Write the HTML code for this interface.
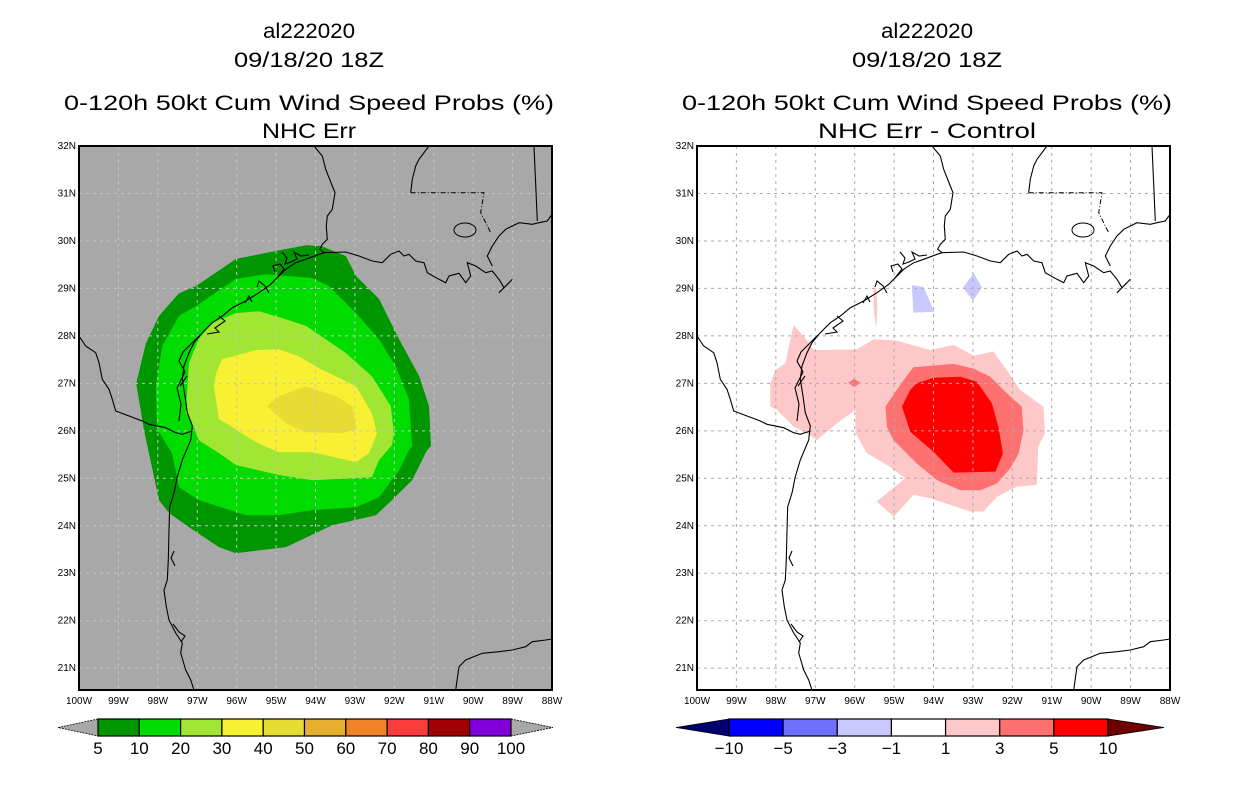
<!DOCTYPE html>
<html><head><meta charset="utf-8"><style>
html,body{margin:0;padding:0;background:#fff;width:1236px;height:800px;overflow:hidden}
svg text{font-family:"Liberation Sans",sans-serif;fill:#000}
</style></head><body>
<svg id="svg" width="1236" height="800" viewBox="0 0 1236 800" xmlns="http://www.w3.org/2000/svg">
<defs>
<clipPath id="clipL"><rect x="0" y="0" width="473" height="544"/></clipPath>
</defs>
<g id="titles"></g>
<g id="panelL" transform="translate(79,146)"></g>
<g id="panelR" transform="translate(697,146)"></g>
<g id="cbars"></g>
</svg>
<script>
// ---- data ----
const lonTicks = [-100,-99,-98,-97,-96,-95,-94,-93,-92,-91,-90,-89,-88];
const latTicks = [21,22,23,24,25,26,27,28,29,30,31,32];
const probLevels = [5,10,20,30,40,50,60,70,80,90,100];
const probColors = ["#009600","#00dc00","#a0e632","#f8f032","#e6dc32","#e6af2d","#f08228","#fa3c3c","#a00000","#8200dc"];
const diffLevels = [-10,-5,-3,-1,1,3,5,10];
const diffColors = ["#0000ff","#7070ff","#c8c8ff","#ffffff","#ffc8c8","#ff7070","#ff0000"];
const prob5 = [[-98.55,27.0],[-98.30,27.85],[-97.97,28.42],[-97.46,28.90],[-97.03,29.05],[-96.02,29.62],[-95.0,29.79],[-94.24,29.91],[-93.84,29.89],[-93.23,29.68],[-92.97,29.26],[-92.39,28.78],[-91.88,27.93],[-91.37,27.15],[-91.12,26.52],[-91.07,25.68],[-91.17,25.59],[-91.55,24.96],[-92.06,24.54],[-92.47,24.22],[-93.58,24.01],[-94.75,23.55],[-96.02,23.42],[-96.45,23.55],[-97.21,23.97],[-97.72,24.27],[-97.97,24.54],[-98.17,25.32],[-98.35,26.01]];
const prob10 = [[-98.05,26.94],[-97.89,27.79],[-97.46,28.42],[-97.03,28.63],[-96.02,29.20],[-95.26,29.30],[-94.09,29.22],[-93.66,29.05],[-92.97,28.48],[-92.39,27.93],[-91.96,27.36],[-91.63,26.67],[-91.55,25.68],[-91.63,25.59],[-91.88,25.17],[-92.39,24.60],[-92.97,24.39],[-94.09,24.33],[-94.93,24.22],[-95.76,24.22],[-96.96,24.54],[-97.46,24.81],[-97.64,25.53],[-98.02,26.04]];
const prob20 = [[-96.96,27.93],[-96.63,28.27],[-96.02,28.48],[-95.43,28.52],[-94.75,28.35],[-94.24,28.21],[-93.23,27.64],[-92.57,27.15],[-92.09,26.52],[-92.01,25.95],[-92.06,25.7],[-92.39,25.38],[-92.57,25.02],[-94.09,24.96],[-94.93,25.07],[-96.02,25.28],[-96.45,25.53],[-96.96,25.80],[-97.16,26.23],[-97.29,26.37],[-97.21,27.43]];
const prob30 = [[-96.37,27.51],[-95.51,27.70],[-94.93,27.72],[-94.42,27.57],[-93.91,27.32],[-92.97,26.94],[-92.57,26.37],[-92.44,25.95],[-92.64,25.53],[-92.97,25.34],[-94.09,25.55],[-94.93,25.55],[-95.51,25.76],[-96.12,26.08],[-96.45,26.25],[-96.58,26.94],[-96.52,27.22]];
const prob40 = [[-95.23,26.52],[-94.93,26.73],[-94.24,26.94],[-93.48,26.73],[-93.07,26.52],[-92.97,26.04],[-93.33,25.95],[-94.24,25.97],[-94.75,26.16]];
const diff1 = [[-98.14,27.00],[-98.01,27.28],[-97.76,27.42],[-97.55,28.23],[-97.21,27.91],[-97.04,27.70],[-95.94,27.72],[-95.52,27.93],[-94.93,27.90],[-94.08,27.70],[-93.49,27.81],[-92.98,27.58],[-92.48,27.67],[-92.14,27.28],[-91.80,26.86],[-91.21,26.51],[-91.17,25.95],[-91.34,25.67],[-91.38,24.86],[-91.89,24.82],[-92.39,24.61],[-92.73,24.30],[-93.07,24.30],[-94.08,24.58],[-94.51,24.65],[-95.01,24.19],[-95.44,24.51],[-94.72,25.00],[-95.10,25.24],[-95.69,25.53],[-95.98,25.95],[-95.98,26.44],[-96.45,26.16],[-96.96,25.80],[-97.13,25.91],[-97.55,26.09],[-97.97,26.44],[-98.14,26.51]];
const diff1b = [[-95.52,29.0],[-95.45,29.0],[-95.42,28.6],[-95.46,28.15],[-95.52,28.6]];
const diff3 = [[-94.51,27.34],[-93.49,27.41],[-92.98,27.31],[-92.56,27.14],[-92.14,26.79],[-91.76,26.51],[-91.72,26.01],[-91.84,25.52],[-92.05,25.21],[-92.39,24.89],[-92.81,24.75],[-93.32,24.75],[-93.91,24.96],[-94.42,25.31],[-95.01,25.80],[-95.18,26.08],[-95.22,26.51],[-94.93,26.86],[-94.67,27.17]];
const diff3b = [[-96.01,27.10],[-95.86,27.01],[-96.01,26.92],[-96.16,27.01]];
const diff5 = [[-94.42,27.00],[-94.00,27.12],[-93.32,27.14],[-92.90,27.03],[-92.52,26.58],[-92.35,26.08],[-92.24,25.52],[-92.43,25.14],[-93.49,25.12],[-94.00,25.56],[-94.59,25.98],[-94.80,26.51],[-94.59,26.86]];
const diffNeg1 = [[-94.55,29.07],[-94.25,29.03],[-93.98,28.51],[-94.51,28.49]];
const diffNeg1b = [[-92.98,29.32],[-92.77,29.02],[-93.0,28.74],[-93.25,29.02]];

// ---- axes ----
const W=473,H=544, LON0=-100,LON1=-88, LAT0=20.54, LAT1=32;
const xS = lon => (lon-LON0)/(LON1-LON0)*W;
const yS = lat => (LAT1-lat)/(LAT1-LAT0)*H;
const NS="http://www.w3.org/2000/svg";
function mk(tag,attrs,parent){const e=document.createElementNS(NS,tag);for(const k in attrs)e.setAttribute(k,attrs[k]);parent.appendChild(e);return e;}
function poly(pts){return pts.map(p=>xS(p[0]).toFixed(1)+","+yS(p[1]).toFixed(1)).join(" ");}

// coastlines in frame-local coordinates (map decoration)
const coastPaths = [
 "M235,0 L243.3,10 246.7,23.3 253.3,40 256,46.7 253.3,63.3 248.3,70 247.3,80 248.3,93.3 243.3,98.3 240.7,103.3 245,106.7",
 "M245,106.7 L266.7,106 280,110 293.3,115 303.3,116.7 311.7,108.3 320,105 325,110 330,108.3 336.7,115 345,116.7 348.3,126.7 360,133.3 366.7,136.7 370,130 380,127.3 386.7,136.7 391.7,130 388.3,116.7 396.7,120 406.7,126.7 413.3,125 420,133.3 425,141.7 420,146.7 430,136.7 433.3,133.3",
 "M413.3,120 L408.3,110 413.3,100 420,90 426.7,83.3 433.3,80 440,76.7 453.3,78.3 460,76.7 468.3,75 473,68.3",
 "M455,0 L458.3,75",
 "M350,0 L340,13.3 336.7,20 333.3,33.3 331.7,46.7",
 "M245,106.7 L240,108.3 226.7,113.3 216.7,116.7 206.7,123.3 196.7,133.3 191.7,138.3 180,146.7 166.7,155 153.3,161.7 143.3,170 133.3,176.7 123.3,186.7 115,196.7 110,206.7 105,220 103.3,233.3 106,250 108.3,266.7 113.3,280 111.7,294 103.3,314 98.3,330.7 95,347 90.7,360.7 90,384 89.3,414 88.3,434 85,444 87.3,460.7 90,474 96.7,487 103.3,497 101.7,507 106.7,524 111.7,534 115,544",
 "M203,106 L208,112 206,118 212,116 218,113 215,106 222,110 230,109",
 "M196,126 L194,120 201,118 205,123 198,132 M178,141 L180,135 186,140 190,147 M166,157 L170,150 173,156 M140,170 L146,175 136,182 140,186 128,188 M121,189 L112,198 104,206 100,215 106,226 98,242 102,258 100,275 M108,230 L101,240",
 "M0,190 L6.7,200 16.7,206.7 20,216.7 23.3,233.3 30,243.3 33.3,253.3 36.7,265 50,270 63.3,275 70,278.3 86.7,281.7 96.7,286.7 103.3,288.3 113.3,285",
 "M376.7,544 L380,520.7 386.7,514 403.3,507.3 420,505.7 433.3,504 446.7,500.7 453.3,495.7 466.7,494 473,493",
 "M95,405 L92,412 96,420 M94,478 L100,486 106,490 102,496"
];

function drawPanel(g, bg, layers, gridColor, side){
  const inner=mk("g",{"clip-path":"url(#clipL)"},g);
  const bgr=mk("rect",{x:0,y:0,width:W,height:H,fill:bg},inner);
  
  
  layers.forEach(L=>{
    const p=mk("polygon",{points:poly(L.pts),fill:L.color},inner);
    
    
  });
  const grid=mk("g",{stroke:gridColor,"stroke-width":1,"stroke-dasharray":"3,4"},inner);
  
  
  lonTicks.slice(1,-1).forEach(l=>mk("line",{x1:xS(l),x2:xS(l),y1:0,y2:H},grid));
  latTicks.slice(0,-1).forEach(l=>mk("line",{x1:0,x2:W,y1:yS(l),y2:yS(l)},grid));
  const coast=mk("g",{fill:"none",stroke:"#000","stroke-width":1.1},inner);
  
  
  coastPaths.forEach(d=>mk("path",{d:d},coast));
  mk("path",{d:"M331.7,46.7 L405,46.7 401.7,66.7 406.7,76.7 411.7,86.7",fill:"none",stroke:"#000","stroke-width":1,"stroke-dasharray":"5,2,1,2"},inner);
  mk("ellipse",{cx:386,cy:84,rx:11,ry:7,fill:"none",stroke:"#000","stroke-width":1},inner);
  const fr=mk("rect",{x:0,y:0,width:W,height:H,fill:"none",stroke:"#000","stroke-width":2},g);
  
  
  lonTicks.forEach(l=>{
    const t=mk("text",{x:xS(l),y:H+14,"font-size":10,"text-anchor":"middle"},g);
    t.textContent=(-l)+"W";
    
    
  });
  latTicks.forEach(l=>{
    const t=mk("text",{x:-3,y:yS(l)+3,"font-size":10,"text-anchor":"end"},g);
    t.textContent=l+"N";
    
    
  });
}

drawPanel(document.getElementById("panelL"),"#a8a8a8",[
  {pts:prob5,color:probColors[0],name:"prob-5-contour"},
  {pts:prob10,color:probColors[1],name:"prob-10-contour"},
  {pts:prob20,color:probColors[2],name:"prob-20-contour"},
  {pts:prob30,color:probColors[3],name:"prob-30-contour"},
  {pts:prob40,color:probColors[4],name:"prob-40-contour"}
],"#c4c4c4","left");
drawPanel(document.getElementById("panelR"),"#ffffff",[
  {pts:diff1,color:diffColors[4],name:"diff-1-contour"},
  {pts:diff1b,color:diffColors[4],name:"diff-1-sliver"},
  {pts:diff3,color:diffColors[5],name:"diff-3-contour"},
  {pts:diff3b,color:diffColors[5],name:"diff-3-spot"},
  {pts:diff5,color:diffColors[6],name:"diff-5-contour"},
  {pts:diffNeg1,color:diffColors[2],name:"diff-neg1-patch"},
  {pts:diffNeg1b,color:diffColors[2],name:"diff-neg1-diamond"}
],"#aaaaaa","right");

// titles
const tg=document.getElementById("titles");
[[309,"left"],[927,"right"]].forEach(([cx,side],i)=>{
  const lines=[["al222020",38,92],["09/18/20 18Z",67,150],["0-120h 50kt Cum Wind Speed Probs (%)",110,490],[i==0?"NHC Err":"NHC Err - Control",138,i==0?94:218]];
  lines.forEach(([s,y,w],k)=>{
    const t=mk("text",{x:cx,y:y,"font-size":21,"text-anchor":"middle",textLength:w,lengthAdjust:"spacingAndGlyphs"},tg);
    t.textContent=s;
    
    
  });
});

// colorbars
const cb=document.getElementById("cbars");
(function(){
  const x0=98,x1=511,y0=719,y1=736,n=probColors.length,bw=(x1-x0)/n;
  const g=mk("g",{},cb);
  
  
  mk("polygon",{points:`${x0},${y0} 58,${(y0+y1)/2} ${x0},${y1}`,fill:"#a8a8a8",stroke:"#000","stroke-width":0.8,"stroke-dasharray":"2,1"},g);
  mk("polygon",{points:`${x1},${y0} 553,${(y0+y1)/2} ${x1},${y1}`,fill:"#a8a8a8",stroke:"#000","stroke-width":0.8,"stroke-dasharray":"2,1"},g);
  probColors.forEach((c,i)=>{
    const r=mk("rect",{x:x0+i*bw,y:y0,width:bw,height:y1-y0,fill:c,stroke:"#000","stroke-width":1.2},g);
    
    
  });
  probLevels.forEach((v,i)=>{
    const t=mk("text",{x:x0+i*bw,y:754,"font-size":17,"text-anchor":"middle"},g);
    t.textContent=v;
    
    
  });
})();
(function(){
  const x0=729,x1=1108,y0=719,y1=736,n=diffColors.length,bw=(x1-x0)/n;
  const g=mk("g",{},cb);
  
  
  mk("polygon",{points:`${x0},${y0} 676,${(y0+y1)/2} ${x0},${y1}`,fill:"#000070",stroke:"#000","stroke-width":0.8},g);
  mk("polygon",{points:`${x1},${y0} 1164,${(y0+y1)/2} ${x1},${y1}`,fill:"#6e0000",stroke:"#000","stroke-width":0.8},g);
  diffColors.forEach((c,i)=>{
    const r=mk("rect",{x:x0+i*bw,y:y0,width:bw,height:y1-y0,fill:c,stroke:"#000","stroke-width":1.2},g);
    
    
  });
  diffLevels.forEach((v,i)=>{
    const t=mk("text",{x:x0+i*bw,y:754,"font-size":17,"text-anchor":"middle"},g);
    t.textContent=v<0?"\u2212"+(-v):v;
    
    
  });
})();
</script>
</body></html>
